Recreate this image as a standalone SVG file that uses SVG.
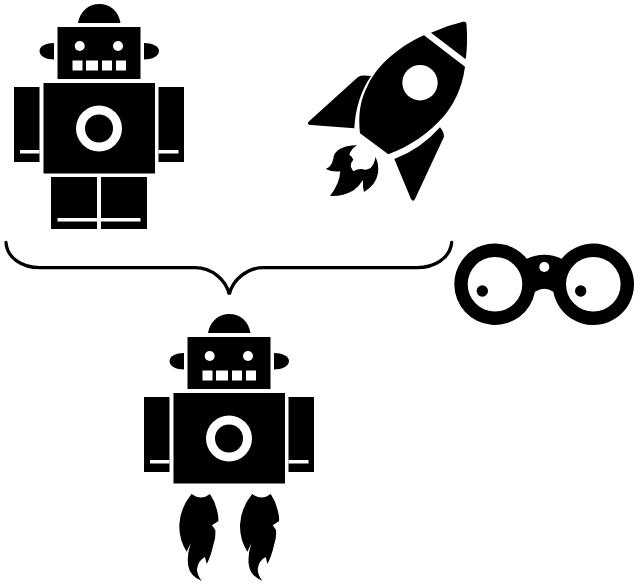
<svg xmlns="http://www.w3.org/2000/svg" width="635" height="585" viewBox="0 0 635 585">
<style>
.k{fill:#000}
.w{fill:#fff}
.brace{fill:none;stroke:#000;stroke-width:3.300;stroke-linecap:round}
</style>
<defs>
<g id="robot-top">
<path class="k" d="M78,23 C80,11 89,4 99.300,4 C110,4 118.500,11 120.500,23 Z"/>
<rect class="k" x="57.500" y="27" width="83" height="52"/>
<path class="k" d="M54,43 C46,43 39.500,46 39.500,51 C39.500,56 46,59.500 54,59.500 Z"/>
<path class="k" d="M144,43 C152,43 159,46 159,51 C159,56 152,59.500 144,59.500 Z"/>
<circle class="w" cx="79.700" cy="46" r="5"/>
<circle class="w" cx="118" cy="46" r="5"/>
<rect class="w" x="72.500" y="60.500" width="10" height="10"/>
<rect class="w" x="86" y="60.500" width="12" height="10"/>
<rect class="w" x="102" y="60.500" width="10" height="10"/>
<rect class="w" x="116" y="60.500" width="10" height="10"/>
<rect class="k" x="43.500" y="83" width="111.500" height="90.500"/>
<circle class="w" cx="99" cy="128.500" r="23"/>
<circle class="k" cx="99" cy="128.500" r="14"/>
<rect class="k" x="14" y="87" width="25.500" height="75"/>
<rect class="w" x="20" y="150" width="19.500" height="3.500"/>
<rect class="k" x="158.500" y="87" width="25.500" height="75"/>
<rect class="w" x="158.500" y="150" width="20" height="3.500"/>
</g>
<path id="jet" class="k" d="M191.500,494 Q201,501 210,494 Q216,503 218,515 Q219,522 217.700,521.500 L212,525.300 L215.300,530 Q216,538 213.300,545 Q211,556 206.700,564 L205,557 Q198.500,560 197,569 Q197,575 201.700,581 Q190,576 188.300,566 Q186.500,556 190.700,543 L186.700,551.700 Q179,540 179.300,525 Q180,508 191.500,494 Z"/>
</defs>

<g id="connectors">
<path class="brace" d="M6,242.500 C7,258 22,267.700 40,267.700 L195,267.700 C212,267.700 226,280 229.300,294.300 C232.500,280 247,267.700 263.300,267.700 L416.700,267.700 C435,267.700 450,258 451.700,242.500"/>
</g>

<g id="robot">
<use href="#robot-top"/>
<rect class="k" x="51" y="177" width="46" height="52"/>
<rect class="k" x="101" y="177" width="46" height="52"/>
<rect class="w" x="57.500" y="218" width="39.500" height="3.500"/>
<rect class="w" x="101" y="218" width="39.500" height="3.500"/>
</g>

<g id="rocket">
<path class="k" d="M431,32.700 Q447,25.500 463,21.800 Q466.500,21 466.500,24.500 Q468,42 465.700,59.300 Z"/>
<path class="k" d="M424,35.300 L465,66.700 C462,90 452,107 443.300,116.700 C428,134 410,146 388.300,154.300 L360,133.300 C358,115 360,100 368,85 C378,64 400,46 424,35.300 Z"/>
<circle class="w" cx="420" cy="82.700" r="17.700"/>
<path class="k" d="M308.300,122 L358,77 Q361,74.800 371,76 Q356,98 354.300,128.300 L311,125 Q306.500,124.500 308.300,122 Z"/>
<path class="k" d="M394.300,159 Q421,149 440,127.300 Q444,132 444,136.700 L415,199 Q413.300,202.500 411,199 Z"/>
<path class="k" d="M357,145.300 C346,145 337,149 334,155 C333,162 331,167 325.700,169 Q333,172.500 340.200,171.300 Q340,183 330,196 Q343,196.500 353.300,190.500 Q359,186.500 363,180 Q362.500,187 364,192 Q376,185 378,173 Q379,164 375.500,157 Q374,165 370.500,168 Q367,170 365,169.700 Q359,168 353.300,171.300 Q351,168 350.700,166.300 Q351,162 353.300,159.700 Q352,156 349.300,154.700 Q351,149 357,145.300 Z"/>
</g>

<g id="binoculars">
<path class="k" fill-rule="evenodd" d="M454.300,284.300 A40.700,40.700 0 0 1 526.700,258.700 Q544.500,251 561.700,258.700 A40.700,40.700 0 1 1 553.300,291.700 Q544.500,286 535,291.700 A40.700,40.700 0 0 1 454.300,284.300 Z M467.700,284.300 A27.300,27.300 0 1 0 522.300,284.300 A27.300,27.300 0 1 0 467.700,284.300 Z M566,284.300 A27.300,27.300 0 1 0 620.600,284.300 A27.300,27.300 0 1 0 566,284.300 Z"/>
<circle class="w" cx="544.300" cy="267" r="5"/>
<circle class="k" cx="482.300" cy="291" r="5.700"/>
<circle class="k" cx="580.700" cy="291" r="5.700"/>
</g>

<g id="jet-robot">
<use href="#robot-top" x="130" y="310"/>
<use href="#jet"/>
<use href="#jet" x="60.700"/>
</g>
</svg>
